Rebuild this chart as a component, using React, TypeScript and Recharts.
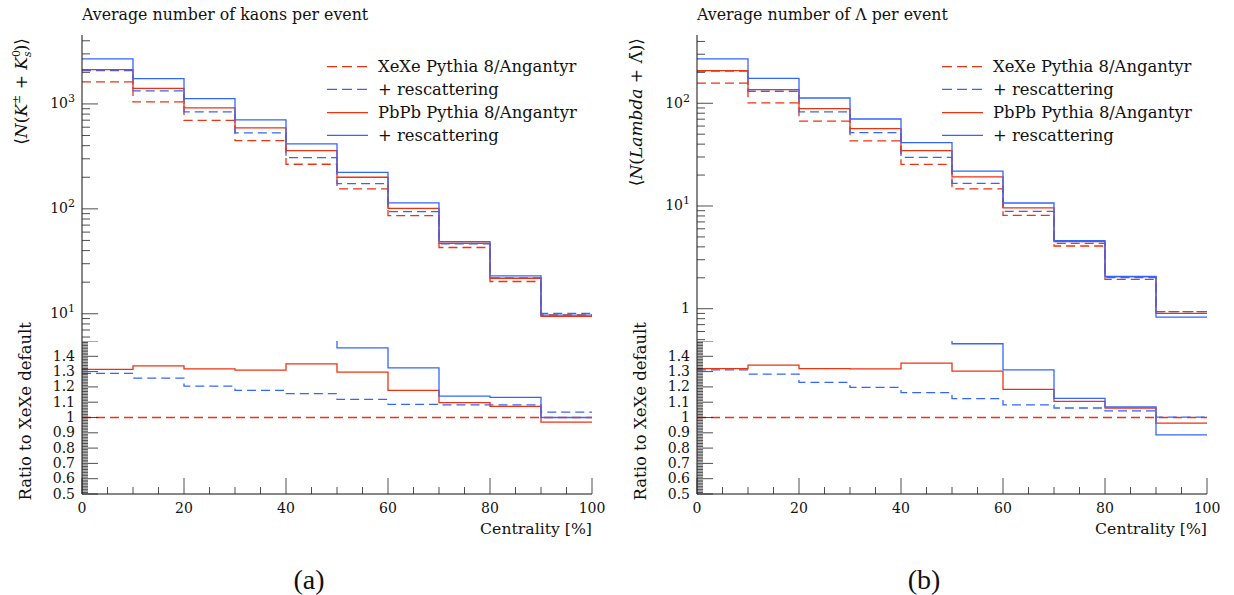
import React from "react";
import { LineChart, Line, XAxis, YAxis } from "recharts";

const FONT = '"DejaVu Serif", serif';
const TAG_FONT = '"Liberation Serif", serif';
const RED = "#ee3311";
const BLUE = "#3366ff";

// bin low edges of centrality [%]; last bin closes at 100
const BIN_LOW = [0, 10, 20, 30, 40, 50, 60, 70, 80, 90];
const X_END = 100;
const X_LABELS = ["0", "20", "40", "60", "80", "100"];

const SERIES_NAMES = ["XeXe Pythia 8/Angantyr", "+ rescattering", "PbPb Pythia 8/Angantyr", "+ rescattering"];

// (a) kaons
const KAON_XEXE = [1620, 1045, 698, 447, 266, 155, 86, 42.8, 20.3, 9.73];
const KAON_XEXE_RESC = [2075, 1330, 839, 530, 308, 174, 94, 46.4, 22.0, 10.07];
const KAON_PBPB = [2121, 1408, 916, 591, 359, 200, 101, 47, 21.8, 9.45];
const KAON_PBPB_RESC = [2683, 1741, 1123, 704, 416, 223, 114, 48.8, 23.0, 9.7];

const KAON_R_XEXE = [1, 1, 1, 1, 1, 1, 1, 1, 1, 1];
const KAON_R_XEXE_RESC = [1.288, 1.257, 1.205, 1.177, 1.156, 1.119, 1.086, 1.082, 1.082, 1.035];
const KAON_R_PBPB = [1.314, 1.338, 1.318, 1.31, 1.35, 1.296, 1.177, 1.097, 1.073, 0.97];
const KAON_R_PBPB_RESC = [1.66, 1.67, 1.61, 1.58, 1.56, 1.455, 1.325, 1.14, 1.132, 1.0];

// (b) lambdas
const LAM_XEXE = [157, 101, 67.1, 43, 25.4, 14.7, 8.1, 4.08, 1.93, 0.935];
const LAM_XEXE_RESC = [206, 130.9, 82.3, 51.8, 29.8, 16.6, 8.87, 4.33, 2.01, 0.937];
const LAM_PBPB = [207.6, 135.6, 88.6, 56.6, 34.6, 19.2, 9.57, 4.51, 2.05, 0.9];
const LAM_PBPB_RESC = [270, 175, 112.6, 70.3, 41.3, 21.9, 10.7, 4.59, 2.06, 0.83];

const LAM_R_XEXE = [1, 1, 1, 1, 1, 1, 1, 1, 1, 1];
const LAM_R_XEXE_RESC = [1.311, 1.283, 1.229, 1.197, 1.162, 1.123, 1.082, 1.062, 1.043, 1.002];
const LAM_R_PBPB = [1.32, 1.342, 1.32, 1.318, 1.355, 1.303, 1.184, 1.106, 1.062, 0.963];
const LAM_R_PBPB_RESC = [1.74, 1.73, 1.68, 1.63, 1.63, 1.482, 1.311, 1.125, 1.069, 0.887];

const RATIO_LABELS = ["0.5", "0.6", "0.7", "0.8", "0.9", "1", "1.1", "1.2", "1.3", "1.4"];

const KEYS = ["xexe", "xexeResc", "pbpb", "pbpbResc"];
const COLORS = [RED, BLUE, RED, BLUE];
const DASHED = [true, true, false, false];

// histogram rows for stepAfter lines: one row per bin + closing row at 100
function buildRows(series: number[][]) {
  const rows = BIN_LOW.map((x, i) => {
    const r: any = { x };
    KEYS.forEach((k, j) => (r[k] = series[j][i]));
    return r;
  });
  const last: any = { x: X_END };
  KEYS.forEach((k, j) => (last[k] = series[j][series[j].length - 1]));
  rows.push(last);
  return rows;
}

const X_MAJOR = X_LABELS.map(Number);
const X_TICKS: number[] = [];
for (let v = 0; v <= 100; v += 5) X_TICKS.push(v);

const RATIO_MAJOR = [...RATIO_LABELS.map(Number), 1.5];
const RATIO_TICKS: number[] = [];
for (let i = 50; i <= 150; i++) RATIO_TICKS.push(i / 100);

function logTicks(lo: number, hi: number) {
  const out: number[] = [];
  for (const d of [0.1, 1, 10, 100, 1000]) {
    for (let m = 1; m <= 9; m++) {
      const v = Math.round(m * d * 1000) / 1000;
      if (v >= lo && v <= hi) out.push(v);
    }
  }
  return out;
}

const isIn = (list: number[], v: number) => list.some((m) => Math.abs(m - v) < 1e-9);

const TICK_STROKE = "#222";

function sideTick(dir: "left" | "right" | "top" | "bottom", majors: number[], majorLen: number, minorLen: number, label?: (v: number) => React.ReactNode) {
  return (p: any) => {
    const v = p.payload.value;
    const major = isIn(majors, v);
    const len = major ? majorLen : minorLen;
    const { x, y } = p;
    let line;
    if (dir === "left") line = <line x1={x} x2={x + len} y1={y} y2={y} stroke={TICK_STROKE} strokeWidth={0.8} />;
    else if (dir === "right") line = <line x1={x} x2={x - len} y1={y} y2={y} stroke={TICK_STROKE} strokeWidth={0.8} />;
    else if (dir === "top") line = <line x1={x} x2={x} y1={y} y2={y + len} stroke={TICK_STROKE} strokeWidth={0.8} />;
    else line = <line x1={x} x2={x} y1={y} y2={y - len} stroke={TICK_STROKE} strokeWidth={0.8} />;
    let txt = null;
    if (label && major) {
      if (dir === "left")
        txt = (
          <text x={x - 7} y={y + 4.5} textAnchor="end" fontFamily={FONT} fontSize={14} fill="#111">
            {label(v)}
          </text>
        );
      else if (dir === "bottom")
        txt = (
          <text x={x} y={y + 19} textAnchor="middle" fontFamily={FONT} fontSize={14} fill="#111">
            {label(v)}
          </text>
        );
    }
    return (
      <g>
        {line}
        {txt}
      </g>
    );
  };
}

function powLabel(v: number) {
  const e = Math.round(Math.log10(v));
  if (e === 0) return "1";
  return (
    <>
      <tspan>10</tspan>
      <tspan dy={-6} fontSize={11}>
        {e}
      </tspan>
    </>
  );
}

function ratioLabel(v: number) {
  const i = RATIO_LABELS.map(Number).findIndex((m) => Math.abs(m - v) < 1e-9);
  return i >= 0 ? RATIO_LABELS[i] : null;
}

function xLabel(v: number) {
  const i = X_MAJOR.findIndex((m) => m === v);
  return i >= 0 ? X_LABELS[i] : null;
}

const AXIS_LINE = { stroke: "#111", strokeWidth: 1 };

type PanelProps = {
  left: number;
  main: any[];
  ratio: any[];
  logDomain: [number, number];
};

function Panel({ left, main, ratio, logDomain }: PanelProps) {
  const logT = logTicks(logDomain[0], logDomain[1]);
  const logMaj = logT.filter((v) => isIn([0.1, 1, 10, 100, 1000, 10000], v));
  const lines = KEYS.map((k, j) => (
    <Line
      key={k}
      xAxisId="b"
      yAxisId="l"
      dataKey={k}
      type="stepAfter"
      stroke={COLORS[j]}
      strokeWidth={1.3}
      strokeDasharray={DASHED[j] ? "9 5" : undefined}
      dot={false}
      activeDot={false}
      isAnimationActive={false}
    />
  ));
  return (
    <>
      <div style={{ position: "absolute", left, top: 0 }}>
        <LineChart width={620} height={341} data={main} margin={{ top: 35, right: 28, bottom: 0, left: 0 }}>
          <XAxis xAxisId="b" dataKey="x" type="number" domain={[0, 100]} ticks={X_TICKS} interval={0} height={0} tickSize={0} tickMargin={0} tickLine={false} axisLine={AXIS_LINE} tick={sideTick("bottom", X_MAJOR, 16, 7)} />
          <XAxis xAxisId="t" orientation="top" dataKey="x" type="number" domain={[0, 100]} ticks={X_TICKS} interval={0} height={0} tickSize={0} tickMargin={0} tickLine={false} axisLine={AXIS_LINE} tick={sideTick("top", X_MAJOR, 16, 7)} />
          <YAxis yAxisId="l" scale="log" domain={logDomain} allowDataOverflow ticks={logT} interval={0} width={82} tickSize={0} tickMargin={0} tickLine={false} axisLine={AXIS_LINE} tick={sideTick("left", logMaj, 16, 8, powLabel)} />
          <YAxis yAxisId="r" orientation="right" scale="log" domain={logDomain} allowDataOverflow ticks={logT} interval={0} width={0} tickSize={0} tickMargin={0} tickLine={false} axisLine={AXIS_LINE} tick={sideTick("right", logMaj, 16, 8)} />
          {lines}
        </LineChart>
      </div>
      <div style={{ position: "absolute", left, top: 341 }}>
        <LineChart width={620} height={200} data={ratio} margin={{ top: 0, right: 28, bottom: 0, left: 0 }}>
          <XAxis xAxisId="b" dataKey="x" type="number" domain={[0, 100]} ticks={X_TICKS} interval={0} height={47} tickSize={0} tickMargin={0} tickLine={false} axisLine={AXIS_LINE} tick={sideTick("bottom", X_MAJOR, 16, 7, xLabel)} />
          <XAxis xAxisId="t" orientation="top" dataKey="x" type="number" domain={[0, 100]} ticks={X_TICKS} interval={0} height={0} tickSize={0} tickMargin={0} tickLine={false} axisLine={AXIS_LINE} tick={sideTick("top", X_MAJOR, 16, 7)} />
          <YAxis yAxisId="l" type="number" domain={[0.5, 1.5]} allowDataOverflow ticks={RATIO_TICKS} interval={0} width={82} tickSize={0} tickMargin={0} tickLine={false} axisLine={AXIS_LINE} tick={sideTick("left", RATIO_MAJOR, 16, 6, ratioLabel)} />
          <YAxis yAxisId="r" orientation="right" type="number" domain={[0.5, 1.5]} allowDataOverflow ticks={RATIO_TICKS} interval={0} width={0} tickSize={0} tickMargin={0} tickLine={false} axisLine={AXIS_LINE} tick={sideTick("right", RATIO_MAJOR, 16, 6)} />
          {lines}
        </LineChart>
      </div>
    </>
  );
}

function PanelText({ left, title, yTitle, tag }: { left: number; title: React.ReactNode; yTitle: React.ReactNode; tag: string }) {
  const rows = [66.7, 89.3, 112.7, 135.3];
  return (
    <g fontFamily={FONT} fill="#111">
      <text x={left + 82} y={20} fontSize={15.8}>
        {title}
      </text>
      <text transform={`translate(${left + 27}, 38) rotate(-90)`} textAnchor="end" fontSize={17}>
        {yTitle}
      </text>
      <text transform={`translate(${left + 31}, 322) rotate(-90)`} textAnchor="end" fontSize={16.5}>
        Ratio to XeXe default
      </text>
      <text x={left + 592} y={534} textAnchor="end" fontSize={15.7}>
        Centrality [%]
      </text>
      <text x={left + 309} y={589} textAnchor="middle" fontSize={28} fontFamily={TAG_FONT}>
        {tag}
      </text>
      {SERIES_NAMES.map((n, i) => (
        <g key={i}>
          <line x1={left + 327} x2={left + 368} y1={rows[i]} y2={rows[i]} stroke={COLORS[i]} strokeWidth={1.3} strokeDasharray={DASHED[i] ? "10 5" : undefined} />
          <text x={left + 378} y={rows[i] + 5.5} fontSize={16.4}>
            {n}
          </text>
        </g>
      ))}
    </g>
  );
}

export default function App() {
  const kaonMain = buildRows([KAON_XEXE, KAON_XEXE_RESC, KAON_PBPB, KAON_PBPB_RESC]);
  const kaonRatio = buildRows([KAON_R_XEXE, KAON_R_XEXE_RESC, KAON_R_PBPB, KAON_R_PBPB_RESC]);
  const lamMain = buildRows([LAM_XEXE, LAM_XEXE_RESC, LAM_PBPB, LAM_PBPB_RESC]);
  const lamRatio = buildRows([LAM_R_XEXE, LAM_R_XEXE_RESC, LAM_R_PBPB, LAM_R_PBPB_RESC]);

  return (
    <div style={{ position: "absolute", left: 0, top: 0, width: 1234, height: 595, background: "#fff", overflow: "hidden" }}>
      <Panel left={0} main={kaonMain} ratio={kaonRatio} logDomain={[5.5, 4540]} />
      <Panel left={615} main={lamMain} ratio={lamRatio} logDomain={[0.485, 462]} />
      <svg width={1234} height={595} style={{ position: "absolute", left: 0, top: 0, pointerEvents: "none" }}>
        <PanelText
          left={0}
          title="Average number of kaons per event"
          tag="(a)"
          yTitle={
            <>
              <tspan>⟨</tspan>
              <tspan fontStyle="italic">N</tspan>
              <tspan>(</tspan>
              <tspan fontStyle="italic">K</tspan>
              <tspan fontSize={11} dy={-7}>±</tspan>
              <tspan dy={7}> + </tspan>
              <tspan fontStyle="italic">K</tspan>
              <tspan fontSize={11} dy={-7}>0</tspan>
              <tspan fontSize={11} fontStyle="italic" dx={-7} dy={11}>s</tspan>
              <tspan dy={-4}>)⟩</tspan>
            </>
          }
        />
        <PanelText
          left={615}
          title="Average number of Λ per event"
          tag="(b)"
          yTitle={
            <>
              <tspan>⟨</tspan>
              <tspan fontStyle="italic">N</tspan>
              <tspan>(</tspan>
              <tspan fontStyle="italic">Lambda</tspan>
              <tspan> + Λ̄)⟩</tspan>
            </>
          }
        />
      </svg>
    </div>
  );
}
